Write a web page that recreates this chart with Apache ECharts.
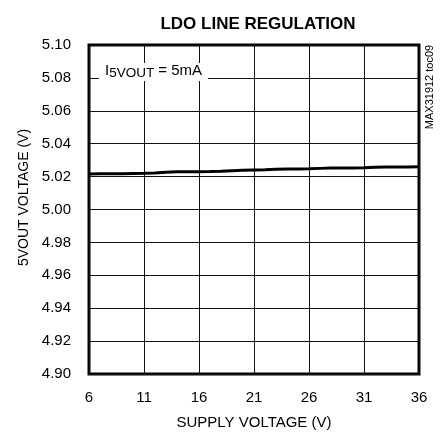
<!DOCTYPE html>
<html>
<head>
<meta charset="utf-8">
<script src="https://cdn.jsdelivr.net/npm/echarts@6/dist/echarts.min.js"></script>
<style>
html,body{margin:0;padding:0;background:#fff;}
#chart{width:440px;height:435px;}
</style>
</head>
<body>
<div id="chart"></div>
<script>
const title = 'LDO LINE REGULATION';
const xName = 'SUPPLY VOLTAGE (V)';
const yName = '5VOUT VOLTAGE (V)';
const supplyVoltage = ['6','7','8','9','10','11','12','13','14','15','16','17','18','19','20','21','22','23','24','25','26','27','28','29','30','31','32','33','34','35','36'];
const vout = [5.0216,5.0217,5.0218,5.0218,5.0219,5.0220,5.0222,5.0226,5.0229,5.0230,5.0230,5.0231,5.0233,5.0236,5.0238,5.0240,5.0242,5.0245,5.0246,5.0246,5.0247,5.0250,5.0252,5.0252,5.0253,5.0254,5.0257,5.0258,5.0258,5.0259,5.0260];
const yMin = 4.90, yMax = 5.10, yStep = 0.02;

const font = "'Liberation Sans', Arial, sans-serif";
const chart = echarts.init(document.getElementById('chart'), null, {renderer:'canvas'});
chart.setOption({
  animation: false,
  backgroundColor: '#fff',
  title: {
    text: title, left: 253, top: 11, textAlign: 'center',
    textStyle: {fontFamily: font, fontSize: 17, fontWeight: 'bold', color: '#000'}
  },
  grid: {left: 89, right: 21, top: 45, bottom: 59, show: true, borderColor: '#000', borderWidth: 3, backgroundColor: 'transparent'},
  xAxis: {
    type: 'category', data: supplyVoltage, boundaryGap: false,
    name: xName, nameLocation: 'middle', nameGap: 41,
    nameTextStyle: {fontFamily: font, fontSize: 15, color: '#000'},
    axisLine: {show: false}, axisTick: {show: false},
    axisLabel: {interval: 4, margin: 16, fontFamily: font, fontSize: 15, color: '#000'},
    splitLine: {show: true, interval: 4, lineStyle: {color: '#111', width: 1}}
  },
  yAxis: {
    type: 'value', min: yMin, max: yMax, interval: yStep,
    name: yName, nameLocation: 'middle', nameGap: 51,
    nameTextStyle: {fontFamily: font, fontSize: 14, color: '#000', padding: [0, 0, 0, 24]},
    axisLine: {show: false}, axisTick: {show: false},
    axisLabel: {margin: 18, fontFamily: font, fontSize: 15, color: '#000', formatter: v => v.toFixed(2)},
    splitLine: {show: true, lineStyle: {color: '#111', width: 1}}
  },
  series: [{
    type: 'line', data: vout, showSymbol: false, symbol: 'none',
    lineStyle: {color: '#000', width: 3}, z: 5
  }],
  graphic: [
    {type: 'rect', left: 99, top: 63, shape: {width: 109, height: 18}, style: {fill: '#fff'}, z: 10},
    {type: 'text', left: 105, top: 63, z: 11, style: {
      text: '{a|I}{b|5VOUT}{a| = 5mA}',
      rich: {
        a: {fontFamily: font, fontSize: 15, fill: '#000', verticalAlign: 'top', lineHeight: 17},
        b: {fontFamily: font, fontSize: 13.5, fill: '#000', verticalAlign: 'bottom', lineHeight: 17, padding: [3,0,0,0]}
      }
    }},
    {type: 'text', x: 430, y: 87, rotation: Math.PI/2, z: 11, style: {
      text: 'MAX31912 toc09', fontFamily: font, fontSize: 11, fill: '#000', align: 'center', verticalAlign: 'middle'
    }}
  ]
});
</script>
</body>
</html>
